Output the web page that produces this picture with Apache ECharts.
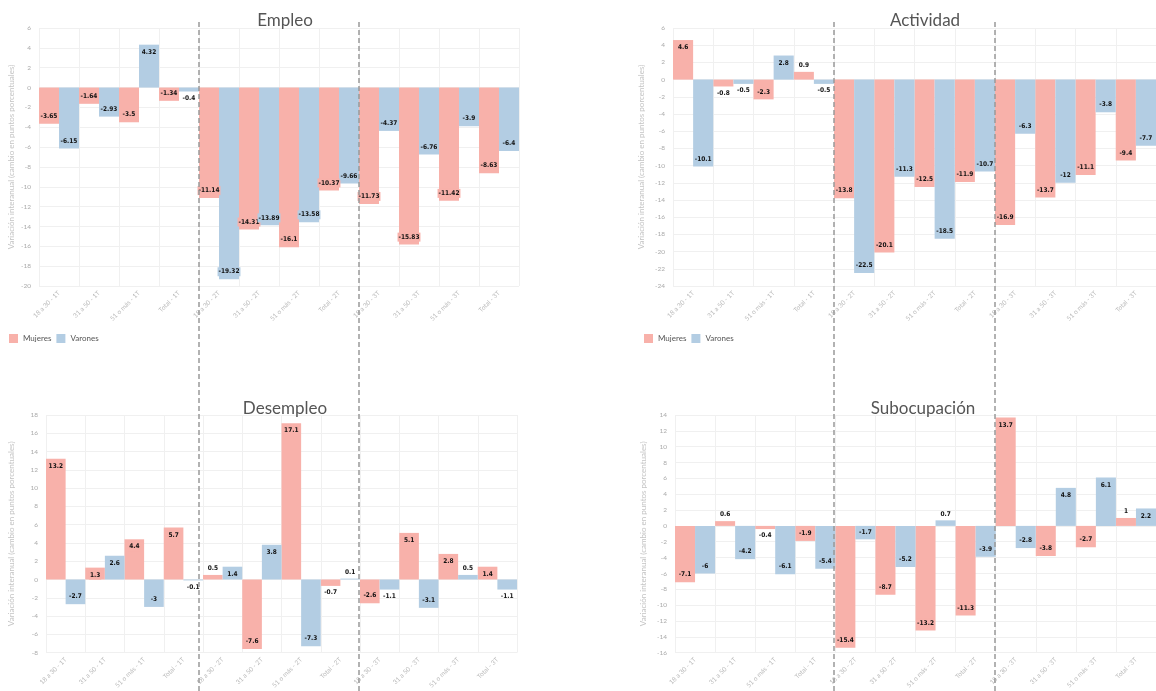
<!DOCTYPE html>
<html>
<head>
<meta charset="utf-8">
<script src="https://cdn.jsdelivr.net/npm/echarts@6/dist/echarts.min.js"></script>
<style>
html,body{margin:0;padding:0;background:#fff;}
#chart{width:1156px;height:691px;}
</style>
</head>
<body>
<div id="chart"></div>
<script>
const categories = [
  "18 a 30 - 1T","31 a 50 - 1T","51 o más - 1T","Total - 1T",
  "18 a 30 - 2T","31 a 50 - 2T","51 o más - 2T","Total - 2T",
  "18 a 30 - 3T","31 a 50 - 3T","51 o más - 3T","Total - 3T"
];
const seriesNames = ["Mujeres","Varones"];

const empleoMujeres = [-3.65,-1.64,-3.5,-1.34,-11.14,-14.31,-16.1,-10.37,-11.73,-15.83,-11.42,-8.63];
const empleoVarones = [-6.15,-2.93,4.32,-0.4,-19.32,-13.89,-13.58,-9.66,-4.37,-6.76,-3.9,-6.4];

const actividadMujeres = [4.6,-0.8,-2.3,0.9,-13.8,-20.1,-12.5,-11.9,-16.9,-13.7,-11.1,-9.4];
const actividadVarones = [-10.1,-0.5,2.8,-0.5,-22.5,-11.3,-18.5,-10.7,-6.3,-12,-3.8,-7.7];

const desempleoMujeres = [13.2,1.3,4.4,5.7,0.5,-7.6,17.1,-0.7,-2.6,5.1,2.8,1.4];
const desempleoVarones = [-2.7,2.6,-3,-0.1,1.4,3.8,-7.3,0.1,-1.1,-3.1,0.5,-1.1];

const subocupacionMujeres = [-7.1,0.6,-0.4,-1.9,-15.4,-8.7,-13.2,-11.3,13.7,-3.8,-2.7,1];
const subocupacionVarones = [-6,-4.2,-6.1,-5.4,-1.7,-5.2,0.7,-3.9,-2.8,4.8,6.1,2.2];

const titles = ["Empleo","Actividad","Desempleo","Subocupación"];
const yMin = [-20,-24,-8,-16];
const yMax = [6,6,18,14];
const yAxisName = "Variación interanual (cambio en puntos porcentuales)";

const panels = [
  [empleoMujeres, empleoVarones],
  [actividadMujeres, actividadVarones],
  [desempleoMujeres, desempleoVarones],
  [subocupacionMujeres, subocupacionVarones]
];

const colors = ["#f8b1aa","#b3cde3"];
const FONT = "Lato, 'Open Sans', sans-serif";
const LABEL_FONT = "'DejaVu Sans Condensed', 'Liberation Sans Narrow', sans-serif";

const grids = [
  {left:39, top:28, width:480, height:258},
  {left:673, top:28, width:484, height:258},
  {left:46, top:415, width:471, height:250},
  {left:675, top:415, width:483, height:250}
];
const titlePos = [[280,7],[920,7],[280,395],[918,395]];

function makeData(values, color){
  return values.map(v => {
    const small = Math.abs(v) < 1.2;
    let label;
    if (small) {
      label = {position: v >= 0 ? 'top' : 'bottom', backgroundColor: 'transparent', distance: 2};
    } else {
      label = {position: v >= 0 ? 'insideTop' : 'insideBottom', backgroundColor: color, distance: 3};
    }
    return {value: v, label: label};
  });
}

const option = {
  animation:false,
  textStyle:{fontFamily:FONT},
  color: colors,
  title: titles.map((t,i)=>({
    text:t, left:titlePos[i][0], top:titlePos[i][1], textAlign:'center',
    textStyle:{fontFamily:FONT, fontSize:17, fontWeight:'normal', color:'#555'}
  })),
  legend:[
    {data:seriesNames, left:4, top:329, itemWidth:9, itemHeight:9, itemGap:5, icon:'rect',
     textStyle:{fontSize:8, color:'#555', fontFamily:FONT}},
    {data:seriesNames, left:639, top:329, itemWidth:9, itemHeight:9, itemGap:5, icon:'rect',
     textStyle:{fontSize:8, color:'#555', fontFamily:FONT}}
  ],
  grid: grids,
  xAxis: grids.map((g,i)=>({
    type:'category', gridIndex:i, data:categories,
    axisLine:{show:false}, axisTick:{show:false},
    axisLabel:{rotate:45, fontSize:6.5, color:'#bbb', interval:0, margin:6, fontFamily:FONT},
    splitLine:{show:true, interval:0, lineStyle:{color:'#f0f0f0', width:1}}
  })),
  yAxis: grids.map((g,i)=>({
    type:'value', gridIndex:i, min:yMin[i], max:yMax[i], interval:2,
    name:yAxisName, nameLocation:'middle', nameGap:i%2===0 ? (i===0?24:31) : 28,
    nameTextStyle:{fontSize:8, color:'#c4c4c4', fontFamily:FONT},
    axisLine:{show:false}, axisTick:{show:false},
    axisLabel:{fontSize:6.5, color:'#aaa', margin:8, fontFamily:FONT},
    splitLine:{show:true, lineStyle:{color:'#f0f0f0', width:1}}
  })),
  series: []
};

panels.forEach((p,i)=>{
  p.forEach((vals,k)=>{
    option.series.push({
      type:'bar', name:seriesNames[k], xAxisIndex:i, yAxisIndex:i,
      data: makeData(vals, colors[k]),
      barGap:'0%', barCategoryGap:'0%',
      itemStyle:{color:colors[k]},
      label:{show:true, fontSize:6.5, fontWeight:'bold', color:'#111', padding:[1,1], fontFamily:LABEL_FONT},
      labelLayout:{hideOverlap:false}
    });
  });
});

const chart = echarts.init(document.getElementById('chart'), null, {renderer:'canvas'});
chart.setOption(option);

// dashed separators between quarter groups, positioned from the top-panel axes
const graphics = [];
[0,1].forEach(i=>{
  [[3,4],[7,8]].forEach(pair=>{
    const a = chart.convertToPixel({xAxisIndex:i}, categories[pair[0]]);
    const b = chart.convertToPixel({xAxisIndex:i}, categories[pair[1]]);
    const x = (a+b)/2;
    graphics.push({
      type:'line', z:100, silent:true,
      shape:{x1:x, y1:22, x2:x, y2:691},
      style:{stroke:'#999', lineWidth:1.5, lineDash:[5,3]}
    });
  });
});
chart.setOption({graphic: graphics});
</script>
</body>
</html>
